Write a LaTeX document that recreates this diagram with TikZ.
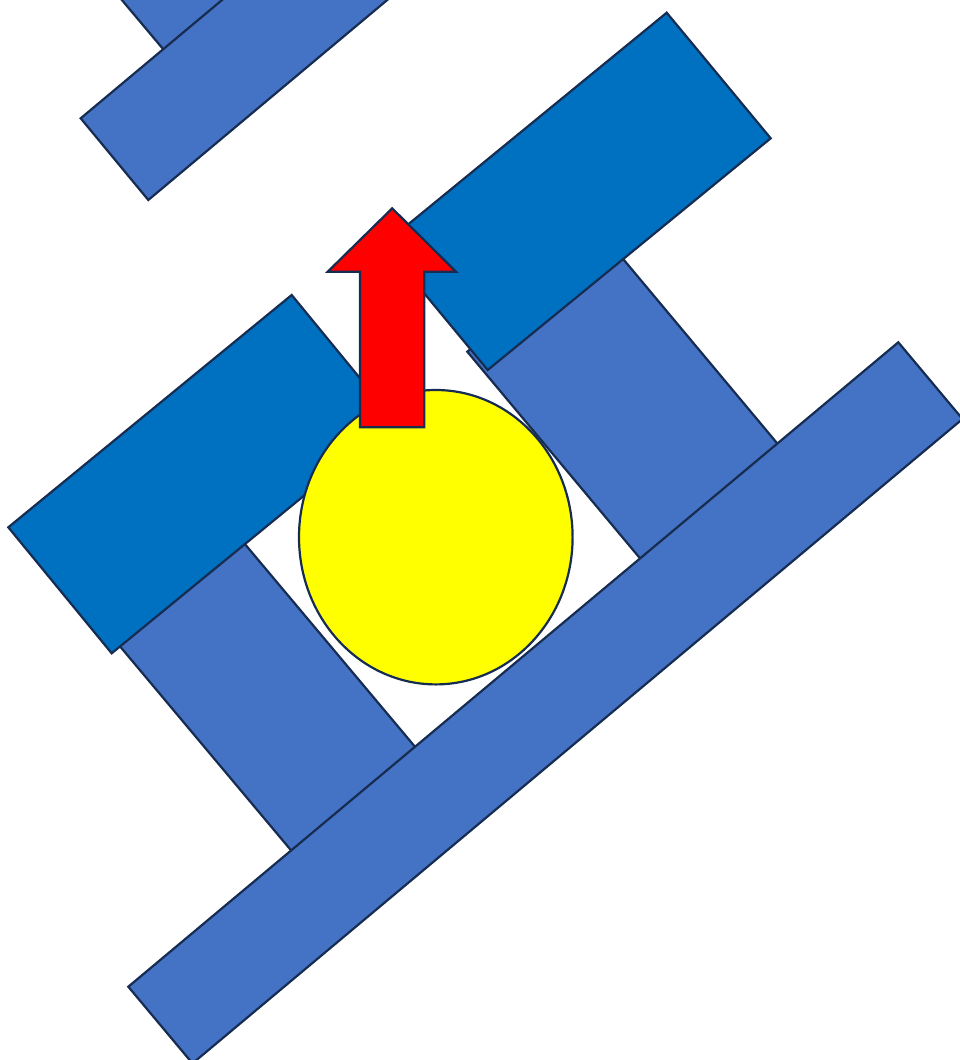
\documentclass[tikz,border=0pt]{standalone}
\usepackage{tikz}
\definecolor{edgeblue}{HTML}{172C51}
\definecolor{darkfill}{HTML}{0070C0}
\definecolor{lightfill}{HTML}{4472C4}
\definecolor{sunfill}{HTML}{FFFF00}
\definecolor{arrowfill}{HTML}{FF0000}
\tikzset{
  shapeline/.style={draw=edgeblue, line width=2.2pt, line join=miter},
  lightbar/.style={shapeline, fill=lightfill},
  darkbar/.style={shapeline, fill=darkfill},
  ball/.style={shapeline, fill=sunfill},
  uparrow/.style={shapeline, fill=arrowfill}
}
\begin{document}
\begin{tikzpicture}[x=1pt,y=-1pt]
\useasboundingbox (0,0) rectangle (960,1060);
\clip (0,0) rectangle (960,1060);
% piece behind the top-left bar
\draw[lightbar] (182.6,72.3) -- (86.1,-42.6) -- (162.7,-106.9) -- (259.2,8) -- cycle;
% top-left bar
\draw[lightbar] (80.7,118.3) -- (148.3,200) -- (608.5,-185.2) -- (540.9,-266.9) -- cycle;
% right pillar
\draw[lightbar] (467.3,351.7) -- (604.4,236.6) -- (808.6,480.9) -- (671.5,596) -- cycle;
% left pillar
\draw[lightbar] (57.4,571.7) -- (181,467.9) -- (446.5,784.3) -- (322.9,888.3) -- cycle;
% upper dark plate
\draw[darkbar] (666.7,12.7) -- (770.7,138.3) -- (487.7,370) -- (383.7,244.4) -- cycle;
% left dark plate
\draw[darkbar] (291.7,295) -- (395.1,421) -- (111.7,653.3) -- (8.3,527.3) -- cycle;
% long bottom bar
\draw[lightbar] (128.3,986.7) -- (898.3,342.3) -- (962.5,419) -- (192.5,1063.4) -- cycle;
% yellow ball
\draw[ball] (435.8,537.2) ellipse [x radius=136.8pt, y radius=147.2pt];
% red arrow
\draw[uparrow] (392.2,208.3) -- (456,271.7) -- (424.3,271.7) -- (424.3,427.3)
  -- (360,427.3) -- (360,271.7) -- (327.7,271.7) -- cycle;
\end{tikzpicture}
\end{document}
